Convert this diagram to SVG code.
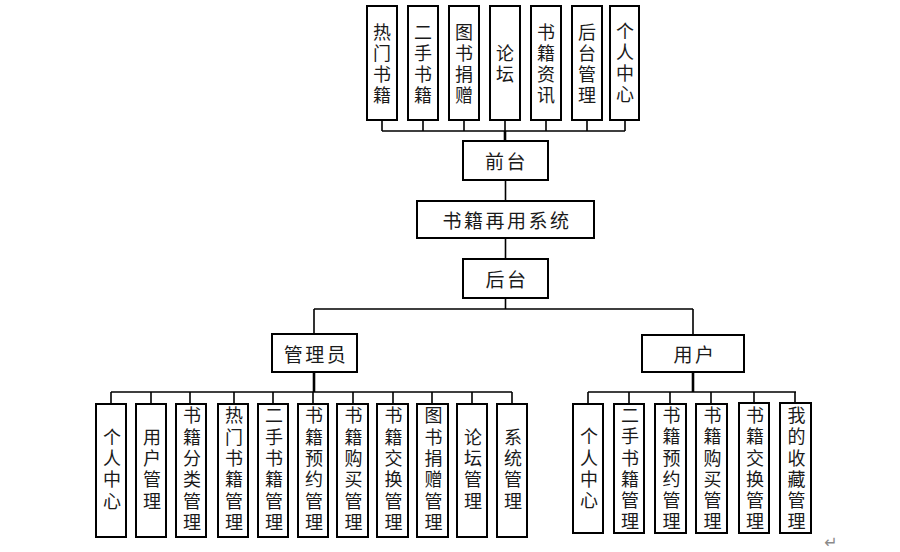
<svg xmlns="http://www.w3.org/2000/svg" width="900" height="552" viewBox="0 0 900 552">
<style>
.box{fill:#fff;stroke:#000;stroke-width:2}
.ln{fill:none;stroke:#000;stroke-width:1.6}
.tk{fill:none;stroke:#000;stroke-width:2.6}
text{font-family:"Noto Sans CJK SC","Noto Sans",sans-serif;font-size:18px;fill:#1a1a1a;text-anchor:middle;dominant-baseline:central}
.big{font-size:19px;letter-spacing:2.5px}
.v{writing-mode:vertical-rl;text-orientation:upright;letter-spacing:3px}
.vb{writing-mode:vertical-rl;text-orientation:upright;letter-spacing:3.3px}
</style>
<rect width="900" height="552" fill="#fff"/>
<g id="connectors">
<path class="ln" d="M382 120V131M423 120V131M464 120V131M505 120V131M546 120V131M587 120V131M625 120V131M382 131H625"/>
<path class="tk" d="M505 131V141"/>
<path class="ln" d="M505.5 180V201M505.5 238V259"/>
<path class="ln" d="M505.5 298V309M314 309H693M314 309V334M693 309V335"/>
<path class="tk" d="M314 372V392"/>
<path class="ln" d="M111 392H512M111 392V404M151 392V404M190 392V404M234 392V404M273 392V404M313 392V404M353 392V404M393 392V404M432 392V404M472 392V404M512 392V404"/>
<path class="tk" d="M693 372V392"/>
<path class="ln" d="M588 392H796M588 392V404M629 392V404M670 392V404M711 392V404M754 392V404M795 392V404"/>
</g>
<g id="n-hot"><rect class="box" x="367" y="6" width="30" height="114"/><text class="v" x="382" y="65">热门书籍</text></g>
<g id="n-second"><rect class="box" x="408" y="6" width="30" height="114"/><text class="v" x="423" y="65">二手书籍</text></g>
<g id="n-donate"><rect class="box" x="449" y="6" width="30" height="114"/><text class="v" x="464" y="65">图书捐赠</text></g>
<g id="n-forum"><rect class="box" x="490" y="6" width="30" height="114"/><text class="v" x="505" y="65">论坛</text></g>
<g id="n-news"><rect class="box" x="531" y="6" width="30" height="114"/><text class="v" x="546" y="65">书籍资讯</text></g>
<g id="n-backmgr"><rect class="box" x="572" y="6" width="30" height="114"/><text class="v" x="587" y="65">后台管理</text></g>
<g id="n-personal"><rect class="box" x="610" y="6" width="29" height="114"/><text class="v" x="625" y="64">个人中心</text></g>
<g id="n-front"><rect class="box" x="463" y="141" width="85" height="39"/><text x="506.5" y="160.5" class="big">前台</text></g>
<g id="n-system"><rect class="box" x="417" y="201" width="177" height="37"/><text x="507" y="219.5" class="big">书籍再用系统</text></g>
<g id="n-back"><rect class="box" x="463" y="259" width="85" height="39"/><text x="507" y="278.5" class="big">后台</text></g>
<g id="n-admin"><rect class="box" x="272" y="334" width="85" height="38"/><text x="316" y="353" class="big">管理员</text></g>
<g id="n-user"><rect class="box" x="642" y="335" width="102" height="37"/><text x="695" y="353.5" class="big">用户</text></g>
<g id="a1"><rect class="box" x="96" y="404" width="30" height="133"/><text class="vb" x="112" y="470.5">个人中心</text></g>
<g id="a2"><rect class="box" x="136" y="404" width="30" height="133"/><text class="vb" x="152" y="470.5">用户管理</text></g>
<g id="a3"><rect class="box" x="176" y="404" width="30" height="133"/><text class="vb" x="192" y="470.5">书籍分类管理</text></g>
<g id="a4"><rect class="box" x="218" y="404" width="30" height="133"/><text class="vb" x="234" y="470.5">热门书籍管理</text></g>
<g id="a5"><rect class="box" x="258" y="404" width="30" height="133"/><text class="vb" x="274" y="470.5">二手书籍管理</text></g>
<g id="a6"><rect class="box" x="298" y="404" width="30" height="133"/><text class="vb" x="314" y="470.5">书籍预约管理</text></g>
<g id="a7"><rect class="box" x="337" y="404" width="31" height="133"/><text class="vb" x="353.5" y="470.5">书籍购买管理</text></g>
<g id="a8"><rect class="box" x="377" y="404" width="31" height="133"/><text class="vb" x="393.5" y="470.5">书籍交换管理</text></g>
<g id="a9"><rect class="box" x="417" y="404" width="31" height="133"/><text class="vb" x="433.5" y="470.5">图书捐赠管理</text></g>
<g id="a10"><rect class="box" x="457" y="404" width="30" height="133"/><text class="vb" x="473" y="470.5">论坛管理</text></g>
<g id="a11"><rect class="box" x="497" y="404" width="30" height="133"/><text class="vb" x="513" y="470.5">系统管理</text></g>
<g id="u1"><rect class="box" x="573" y="404" width="30" height="129"/><text class="vb" x="589" y="470">个人中心</text></g>
<g id="u2"><rect class="box" x="614" y="404" width="30" height="129"/><text class="vb" x="630" y="470">二手书籍管理</text></g>
<g id="u3"><rect class="box" x="655" y="404" width="31" height="129"/><text class="vb" x="671.5" y="470">书籍预约管理</text></g>
<g id="u4"><rect class="box" x="696" y="404" width="31" height="129"/><text class="vb" x="712.5" y="470">书籍购买管理</text></g>
<g id="u5"><rect class="box" x="739" y="403" width="30" height="130"/><text class="vb" x="755" y="470">书籍交换管理</text></g>
<g id="u6"><rect class="box" x="780" y="403" width="31" height="130"/><text class="vb" x="796.5" y="470">我的收藏管理</text></g>
<text x="831" y="542" style="font-family:'DejaVu Sans',sans-serif;font-size:16px;fill:#8a8a8a">↵</text>
</svg>
